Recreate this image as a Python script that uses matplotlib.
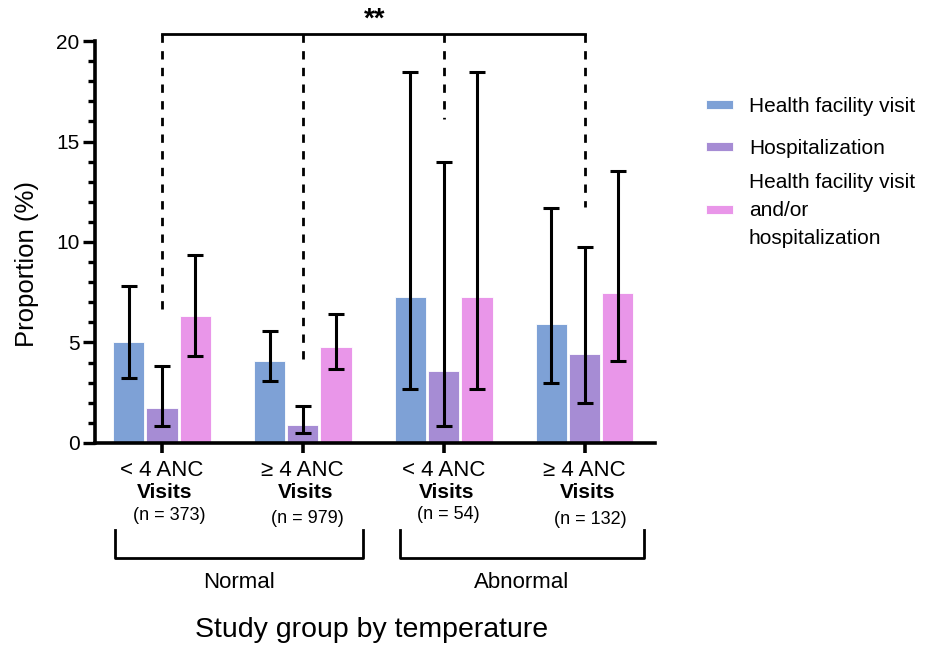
import numpy as np
import matplotlib
matplotlib.use("Agg")
import matplotlib.pyplot as plt
from matplotlib.patches import Rectangle

plt.rcParams['font.family'] = ['Liberation Sans', 'DejaVu Sans']

groups = ["< 4 ANC", "≥ 4 ANC", "< 4 ANC", "≥ 4 ANC"]
group_sub = "Visits"
group_n = ["(n = 373)", "(n = 979)", "(n = 54)", "(n = 132)"]
series = ["Health facility visit", "Hospitalization",
          "Health facility visit\nand/or\nhospitalization"]
colors = ["#7ea1d6", "#a68cd4", "#e996e9"]

# proportion (%) and 95% CI
visit = [5.0, 4.06, 7.28, 5.94]
visit_lo = [3.22, 3.07, 2.71, 3.0]
visit_hi = [7.81, 5.59, 18.46, 11.68]
hosp = [1.76, 0.91, 3.58, 4.45]
hosp_lo = [0.85, 0.52, 0.85, 2.01]
hosp_hi = [3.85, 1.86, 13.98, 9.77]
either = [6.32, 4.78, 7.28, 7.45]
either_lo = [4.31, 3.67, 2.71, 4.06]
either_hi = [9.37, 6.40, 18.46, 13.53]

# significance bracket: bar top level and where each dashed drop ends
sig_level = 20.33
sig_drop_ends = [6.6, 3.97, 16.1, 11.74]

fig = plt.figure(figsize=(9.25, 6.48), dpi=100)
ax = fig.add_axes([0.1027, 0.3164, 0.6054, 0.6203])

x = np.arange(len(groups))
width = 0.222
offsets = [-0.236, 0, 0.236]
vals = [visit, hosp, either]
los = [visit_lo, hosp_lo, either_lo]
his = [visit_hi, hosp_hi, either_hi]

for i in range(3):
    v = np.array(vals[i])
    err = np.array([v - np.array(los[i]), np.array(his[i]) - v])
    ax.bar(x + offsets[i], v, width, color=colors[i], edgecolor="white",
           linewidth=0.6, zorder=2)
    ax.errorbar(x + offsets[i], v, yerr=err, fmt="none", ecolor="black",
                elinewidth=2.2, capsize=6, capthick=2.2, zorder=3)

ax.set_xlim(-0.475, 3.5)
ax.set_ylim(0, 20)
ax.set_yticks([0, 5, 10, 15, 20])
ax.set_yticks(np.arange(0, 21, 1), minor=True)
ax.set_xticks(x)
ax.set_xticklabels(groups, fontsize=16)
ax.tick_params(axis="y", which="major", length=9, width=2.4, labelsize=15,
               pad=2)
ax.tick_params(axis="y", which="minor", length=5, width=2.4)
ax.tick_params(axis="x", which="major", length=7, width=2.6, pad=5)
for s in ["top", "right"]:
    ax.spines[s].set_visible(False)
for s in ["left", "bottom"]:
    ax.spines[s].set_linewidth(2.6)
ax.set_ylabel("Proportion (%)", fontsize=18.5)
ax.yaxis.set_label_coords(-0.1, 0.445)

trans = ax.get_xaxis_transform()
# second line and n under each group
n_dx = [0.05, 0.03, 0.03, 0.04]
n_dy = [-0.18, -0.188, -0.178, -0.19]
for i, t in enumerate(group_n):
    ax.text(x[i] + 0.02, -0.122, group_sub, transform=trans, ha="center",
            va="center", fontsize=15, fontweight="bold")
    ax.text(x[i] + n_dx[i], n_dy[i], t, transform=trans,
            ha="center", va="center", fontsize=13)

# significance bracket
ax.plot([x[0], x[-1]], [sig_level, sig_level], color="black", lw=2,
        clip_on=False, zorder=4)
for i in range(len(groups)):
    ax.plot([x[i], x[i]], [sig_level, sig_drop_ends[i]], color="black",
            lw=2, ls=(0, (3, 3)), clip_on=False, zorder=4)
ax.text(1.51, 21.05, "**", ha="center", va="center",
        fontsize=20, fontweight="bold", clip_on=False)

# temperature group brackets below the axis
brackets = [("Normal", -0.333, 1.426), ("Abnormal", 1.688, 3.425)]
for name, a, b in brackets:
    ax.plot([a, a, b, b], [-0.216, -0.285, -0.285, -0.216], color="black",
            lw=2, transform=trans, clip_on=False)
    ax.text((a + b) / 2, -0.347, name, transform=trans, ha="center",
            va="center", fontsize=16)
ax.text(1.49, -0.465, "Study group by temperature", transform=trans,
        ha="center", va="center", fontsize=20.5)

# legend, laid out by hand to follow the reference spacing
W, H = 925.0, 648.0
leg_rows = [104.5, 146.5, 209]
for c, label, yc in zip(colors, series, leg_rows):
    fig.add_artist(Rectangle((706 / W, 1 - (yc + 4.5) / H), 27 / W, 9 / H,
                             transform=fig.transFigure, facecolor=c,
                             edgecolor="white", lw=0.6))
    fig.text(749 / W, 1 - (yc + 1.5) / H, label, ha="left", va="center",
             fontsize=15, linespacing=1.6)

fig.savefig("out.png", dpi=100)
